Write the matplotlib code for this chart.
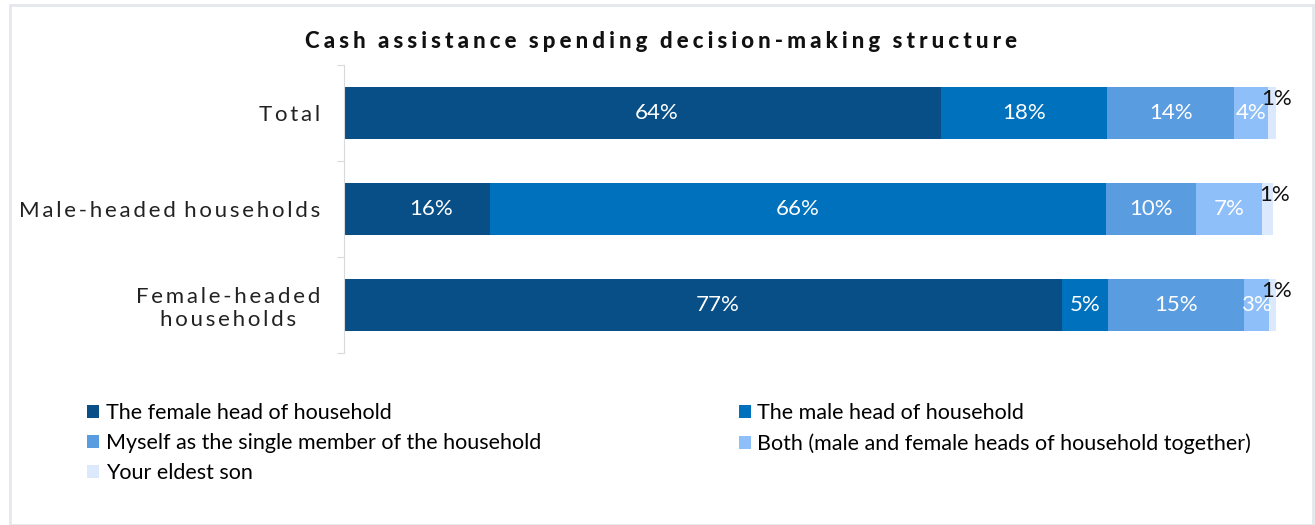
import numpy as np
import matplotlib.pyplot as plt
from matplotlib.patches import Rectangle

plt.rcParams['font.family'] = ['Lato', 'DejaVu Sans']

# Data
groups = ['Total', 'Male-headed households', 'Female-headed\nhouseholds']
answers = ['The female head of household',
           'The male head of household',
           'Myself as the single member of the household',
           'Both (male and female heads of household together)',
           'Your eldest son']
shares = [
    [64.0, 17.8, 13.6, 3.6, 0.9],   # Total
    [15.6, 66.1, 9.6, 7.1, 1.2],    # Male-headed
    [77.0, 4.9, 14.6, 2.6, 0.8],    # Female-headed
]
colors = ['#084f87', '#0071bd', '#5a9ce0', '#8fbff8', '#dce9fc']
title = 'Cash assistance spending decision-making structure'


def spaced(s, gap='\u2009'):
    # pad letters out a little, words a bit more
    words = s.split(' ')
    return (gap * 3).join(gap.join(w) for w in words)


fig = plt.figure(figsize=(13.15, 5.25), dpi=100)
fig.patches.append(Rectangle((10 / 1315, 0.0), 1303 / 1315, 520 / 525,
                             transform=fig.transFigure, fill=False,
                             edgecolor='#e4e8ec', linewidth=2))

ax = fig.add_axes([344 / 1315, 1 - 353 / 525, 933 / 1315, 288 / 525])

vals = np.array(shares)
y = np.arange(len(groups))
left = np.zeros(len(groups))
handles = []
for j, name in enumerate(answers):
    bars = ax.barh(y, vals[:, j], left=left, height=0.55, color=colors[j],
                   label=name)
    handles.append(bars)
    for i, b in enumerate(bars):
        v = vals[i, j]
        if j == len(answers) - 1:
            # tiny slice: label sits just above its right end
            ax.text(left[i] + v + 0.1, y[i] - 0.15, f'{v:.0f}%', ha='center',
                    va='center', fontsize=16, color='#111111')
        else:
            nudge = 1.5 if j == 0 else 0
            ax.text(left[i] + v / 2 + nudge, y[i], f'{v:.0f}%', ha='center',
                    va='center', fontsize=16, color='white')
    left += vals[:, j]

ax.set_xlim(0, 100)
ax.set_ylim(2.5, -0.5)
ax.set_xticks([])
ax.set_yticks([-0.5, 0.5, 1.5, 2.5])
ax.set_yticklabels([])
ax.set_yticks(y, minor=True)
ylabels = ['\n'.join(spaced(part) for part in g.split('\n')) for g in groups]
ax.set_yticklabels(ylabels, minor=True, fontsize=16, color='#222222',
                   multialignment='center')
ax.tick_params(axis='y', which='major', length=5, color='#d9d9d9')
ax.tick_params(axis='y', which='minor', length=0, pad=17)
for s in ['top', 'right', 'bottom']:
    ax.spines[s].set_visible(False)
ax.spines['left'].set_color('#d9d9d9')

fig.text(661 / 1315, 1 - 42 / 525, spaced(title, '\u2009\u200a'),
         ha='center', va='center', fontsize=16, fontweight='black',
         color='#111111')

# legend fills row by row
order = [0, 2, 4, 1, 3]
fig.legend([handles[k] for k in order], [answers[k] for k in order],
           loc='upper left', bbox_to_anchor=(68 / 1315, 1 - 384 / 525),
           ncol=2, frameon=False, fontsize=15.5, handlelength=0.55,
           handleheight=0.55, handletextpad=0.3, columnspacing=9.2,
           labelspacing=0.45)

fig.savefig('out.png', dpi=100)
